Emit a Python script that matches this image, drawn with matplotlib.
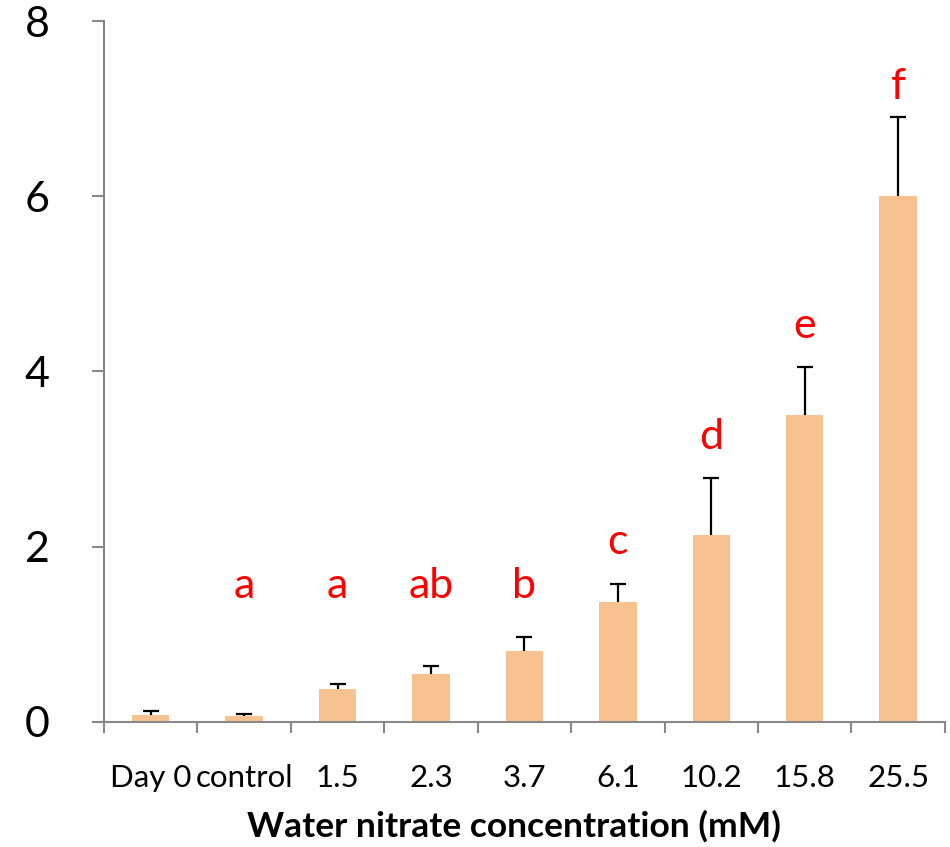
import numpy as np
import matplotlib.pyplot as plt

plt.rcParams['font.family'] = ['Lato', 'DejaVu Sans']

categories = ['Day 0', 'control', '1.5', '2.3', '3.7', '6.1', '10.2', '15.8', '25.5']
means = [0.08, 0.07, 0.38, 0.55, 0.81, 1.37, 2.13, 3.50, 6.00]
errors = [0.04, 0.02, 0.05, 0.09, 0.16, 0.20, 0.65, 0.55, 0.90]
letters = ['', 'a', 'a', 'ab', 'b', 'c', 'd', 'e', 'f']
letter_y = [0, 1.55, 1.55, 1.55, 1.55, 2.05, 3.25, 4.52, 7.25]

AXIS_GREY = '#888888'

fig = plt.figure(figsize=(9.5, 8.47), dpi=100)
ax = fig.add_axes([0.1095, 0.1476, 0.885, 0.8276])

x = np.arange(len(categories))
ax.bar(x, means, width=0.4, color='#F8C290', zorder=2)
eb = ax.errorbar(x, means, yerr=[np.zeros(len(errors)), errors], fmt='none',
                 ecolor='black', elinewidth=1.6, capsize=6, capthick=1.6, zorder=3)
# one-sided bars: hide the cap drawn at the bar top
eb[1][0].set_visible(False)

for xi, lab, ly in zip(x, letters, letter_y):
    if lab:
        ax.text(xi, ly, lab, color='red', fontsize=31, ha='center', va='center')

ax.set_xlim(-0.5, len(categories) - 0.5)
ax.set_ylim(0, 8)
ax.set_yticks([0, 2, 4, 6, 8])
ax.set_xticks(x)
ax.set_xticklabels(categories, fontsize=22.5)
ax.set_xticks(np.arange(-0.5, len(categories)), minor=True)
ax.tick_params(axis='x', which='major', length=0, pad=30)
ax.tick_params(axis='x', which='minor', length=8, width=1.5, color=AXIS_GREY)
ax.tick_params(axis='y', length=9, width=1.5, color=AXIS_GREY, labelsize=31, pad=48)
for lbl in ax.get_yticklabels():
    lbl.set_horizontalalignment('left')

for side in ['top', 'right']:
    ax.spines[side].set_visible(False)
for side in ['left', 'bottom']:
    ax.spines[side].set_color(AXIS_GREY)
    ax.spines[side].set_linewidth(1.5)

ax.set_xlabel('Water nitrate concentration (mM)', fontsize=25.5, fontweight='bold')
ax.xaxis.set_label_coords(0.487, -0.125)

fig.savefig('out.png', dpi=100)
